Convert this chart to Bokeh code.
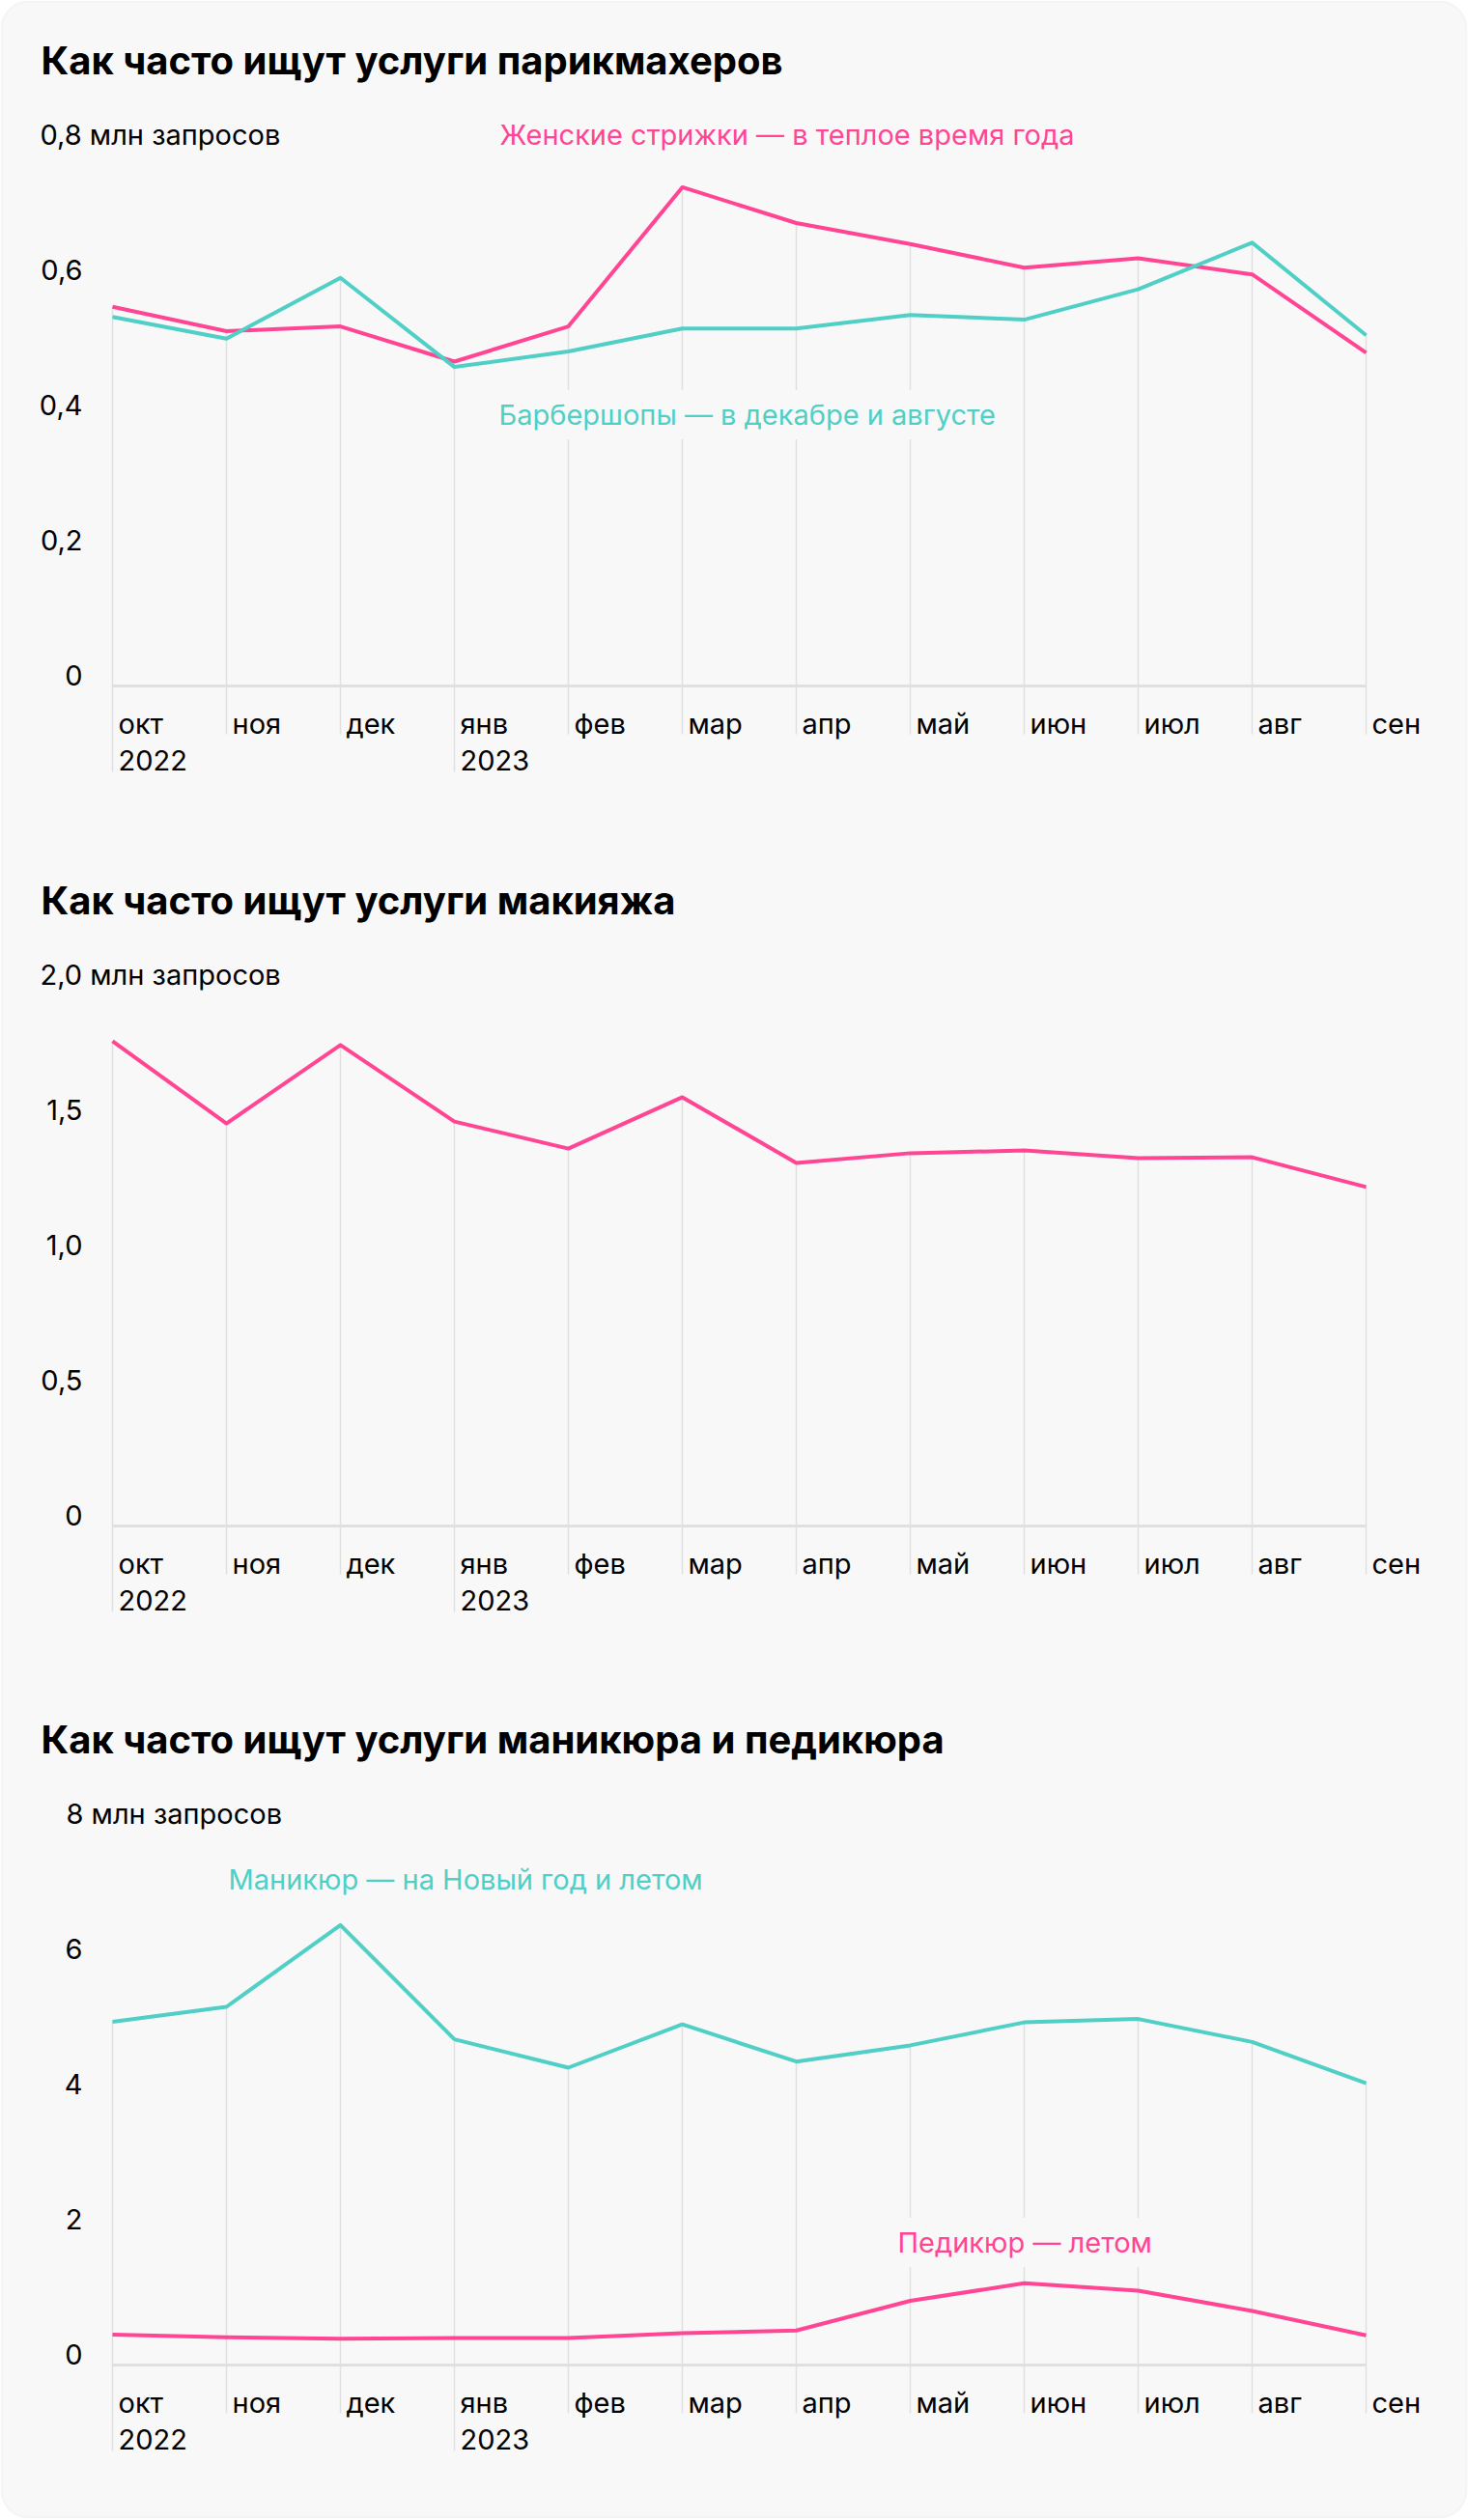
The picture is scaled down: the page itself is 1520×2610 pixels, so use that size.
from bokeh.plotting import figure
from bokeh.models import Range1d, Label, BoxAnnotation
from bokeh.core.properties import value
from bokeh.embed import file_html
from bokeh.resources import INLINE

# ---------------- data ----------------
months = ["окт", "ноя", "дек", "янв", "фев", "мар", "апр", "май", "июн", "июл", "авг", "сен"]
years = ["2022", "", "", "2023", "", "", "", "", "", "", "", ""]

title_hair = "Как часто ищут услуги парикмахеров"
title_makeup = "Как часто ищут услуги макияжа"
title_nails = "Как часто ищут услуги маникюра и педикюра"

women_haircuts = [0.561, 0.525, 0.532, 0.480, 0.532, 0.738, 0.685, 0.654, 0.619, 0.633, 0.609, 0.493]
barbershops = [0.546, 0.514, 0.604, 0.472, 0.495, 0.529, 0.529, 0.549, 0.542, 0.587, 0.656, 0.519]
makeup = [1.793, 1.489, 1.779, 1.496, 1.396, 1.586, 1.343, 1.379, 1.389, 1.361, 1.364, 1.254]
manicure = [5.08, 5.30, 6.51, 4.82, 4.40, 5.04, 4.49, 4.73, 5.07, 5.12, 4.78, 4.17]
pedicure = [0.45, 0.41, 0.39, 0.40, 0.40, 0.47, 0.51, 0.95, 1.21, 1.10, 0.80, 0.44]

ticks_hair = [0, 0.2, 0.4, 0.6, 0.8]
tick_labels_hair = ["0", "0,2", "0,4", "0,6", "0,8 млн запросов"]
ticks_makeup = [0, 0.5, 1.0, 1.5, 2.0]
tick_labels_makeup = ["0", "0,5", "1,0", "1,5", "2,0 млн запросов"]
ticks_nails = [0, 2, 4, 6, 8]
tick_labels_nails = ["0", "2", "4", "6", "8 млн запросов"]

label_women = "Женские стрижки — в теплое время года"
label_barber = "Барбершопы — в декабре и августе"
label_manicure = "Маникюр — на Новый год и летом"
label_pedicure = "Педикюр — летом"

# ---------------- style / layout ----------------
PINK = "#ff4593"
TEAL = "#4fcfc5"
BG = "#f8f8f8"
GRID = "#e0e0e0"
FONT = "Inter"
FS_PX = 29
FS = f"{FS_PX}px"
TITLE_PX = 40
PAD = 8
BL = 0.37                 # rendered baseline sits this many em below the anchor
TS = round(BL * FS_PX)    # text shift for body text
TT = round(BL * TITLE_PX) # text shift for titles

W, H = 1520, 2608
X0 = 116                  # page x of first month
DX = 118                  # px per month
PLOT_H = 560              # px from 0 to top tick

xr = Range1d(-X0 / DX, (W - X0) / DX)

charts = [
    dict(name="hair", zero=710, top=0.8, title=title_hair,
         ticks=ticks_hair, tlabels=tick_labels_hair, top_left=41,
         series=[(women_haircuts, PINK), (barbershops, TEAL)]),
    dict(name="makeup", zero=1580, top=2.0, title=title_makeup,
         ticks=ticks_makeup, tlabels=tick_labels_makeup, top_left=41,
         series=[(makeup, PINK)]),
    dict(name="nails", zero=2449, top=8.0, title=title_nails,
         ticks=ticks_nails, tlabels=tick_labels_nails, top_left=68,
         series=[(manicure, TEAL), (pedicure, PINK)]),
]


def yrange_for(zero_px, top_val):
    s = PLOT_H / top_val
    return Range1d(-(H - zero_px) / s, zero_px / s), s


r0, s0 = yrange_for(charts[0]["zero"], charts[0]["top"])

p = figure(width=W, height=H, x_range=xr, y_range=r0,
           output_backend="svg", toolbar_location=None,
           x_axis_location=None, y_axis_location=None,
           min_border=0, outline_line_color=None,
           background_fill_color="#ffffff", border_fill_color="#ffffff")
p.xgrid.visible = False
p.ygrid.visible = False


def dx(px):
    return (px - X0) / DX


def dy0(py):
    return (charts[0]["zero"] - py) / s0


# card
p.add_layout(BoxAnnotation(left=dx(1), right=dx(W - 2),
                           top=dy0(1), bottom=dy0(H - 1),
                           fill_color=BG, fill_alpha=1, line_color="#e4e4e4",
                           line_width=2, border_radius=28, level="underlay"))

idx = list(range(len(months)))
txt_kw = dict(text_font=value(FONT), text_font_size=FS, text_color="#000000",
              text_baseline="alphabetic")

for k, c in enumerate(charts):
    if k == 0:
        rname = "default"
        s = s0
    else:
        rr, s = yrange_for(c["zero"], c["top"])
        rname = c["name"]
        p.extra_y_ranges[rname] = rr

    # drop lines from the highest series value down beside the month labels
    tops = [max(vals[i] for vals, _ in c["series"]) for i in idx]
    bottoms = [-(89 if years[i] else 50) / s for i in idx]
    p.segment(x0=idx, y0=bottoms, x1=idx, y1=tops, line_color=GRID,
              line_width=1.5, y_range_name=rname)

    # zero line
    p.line(x=[idx[0], idx[-1]], y=[0, 0], line_color=GRID, line_width=3,
           y_range_name=rname)

    # series
    for vals, col in c["series"]:
        p.line(x=idx, y=vals, line_color=col, line_width=4,
               line_join="round", y_range_name=rname)

    # y tick labels (baseline on the tick value)
    p.text(x=[0] * (len(c["ticks"]) - 1), y=c["ticks"][:-1], text=c["tlabels"][:-1],
           x_offset=85 - X0, y_offset=-TS, text_align="right",
           y_range_name=rname, **txt_kw)
    p.text(x=[0], y=[c["ticks"][-1]], text=[c["tlabels"][-1]],
           x_offset=c["top_left"] - X0, y_offset=-TS, text_align="left",
           y_range_name=rname, **txt_kw)

    # month / year labels
    p.text(x=idx, y=[0] * len(idx), text=months, x_offset=6, y_offset=50 - TS,
           text_align="left", y_range_name=rname, **txt_kw)
    yi = [i for i in idx if years[i]]
    p.text(x=yi, y=[0] * len(yi), text=[years[i] for i in yi], x_offset=6,
           y_offset=88 - TS, text_align="left", y_range_name=rname, **txt_kw)

    # title
    p.add_layout(Label(x=dx(42), y=dy0(c["zero"] - 633 - TT), text=c["title"],
                       text_font=FONT, text_font_size=f"{TITLE_PX}px",
                       text_font_style="bold", text_color="#000000",
                       text_baseline="alphabetic"))

# annotations (background masks the drop lines)
for txt, px_, py_, col in [(label_women, 517, 150, PINK),
                           (label_barber, 516, 440, TEAL),
                           (label_manicure, 236, 1957, TEAL),
                           (label_pedicure, 929, 2333, PINK)]:
    p.add_layout(Label(x=dx(px_ - PAD), y=dy0(py_ - TS), text=txt, text_font=FONT,
                       text_font_size=FS, text_color=col, text_baseline="alphabetic",
                       background_fill_color=BG, background_fill_alpha=1,
                       padding=PAD))

open("out.html", "w").write(file_html(p, INLINE))
